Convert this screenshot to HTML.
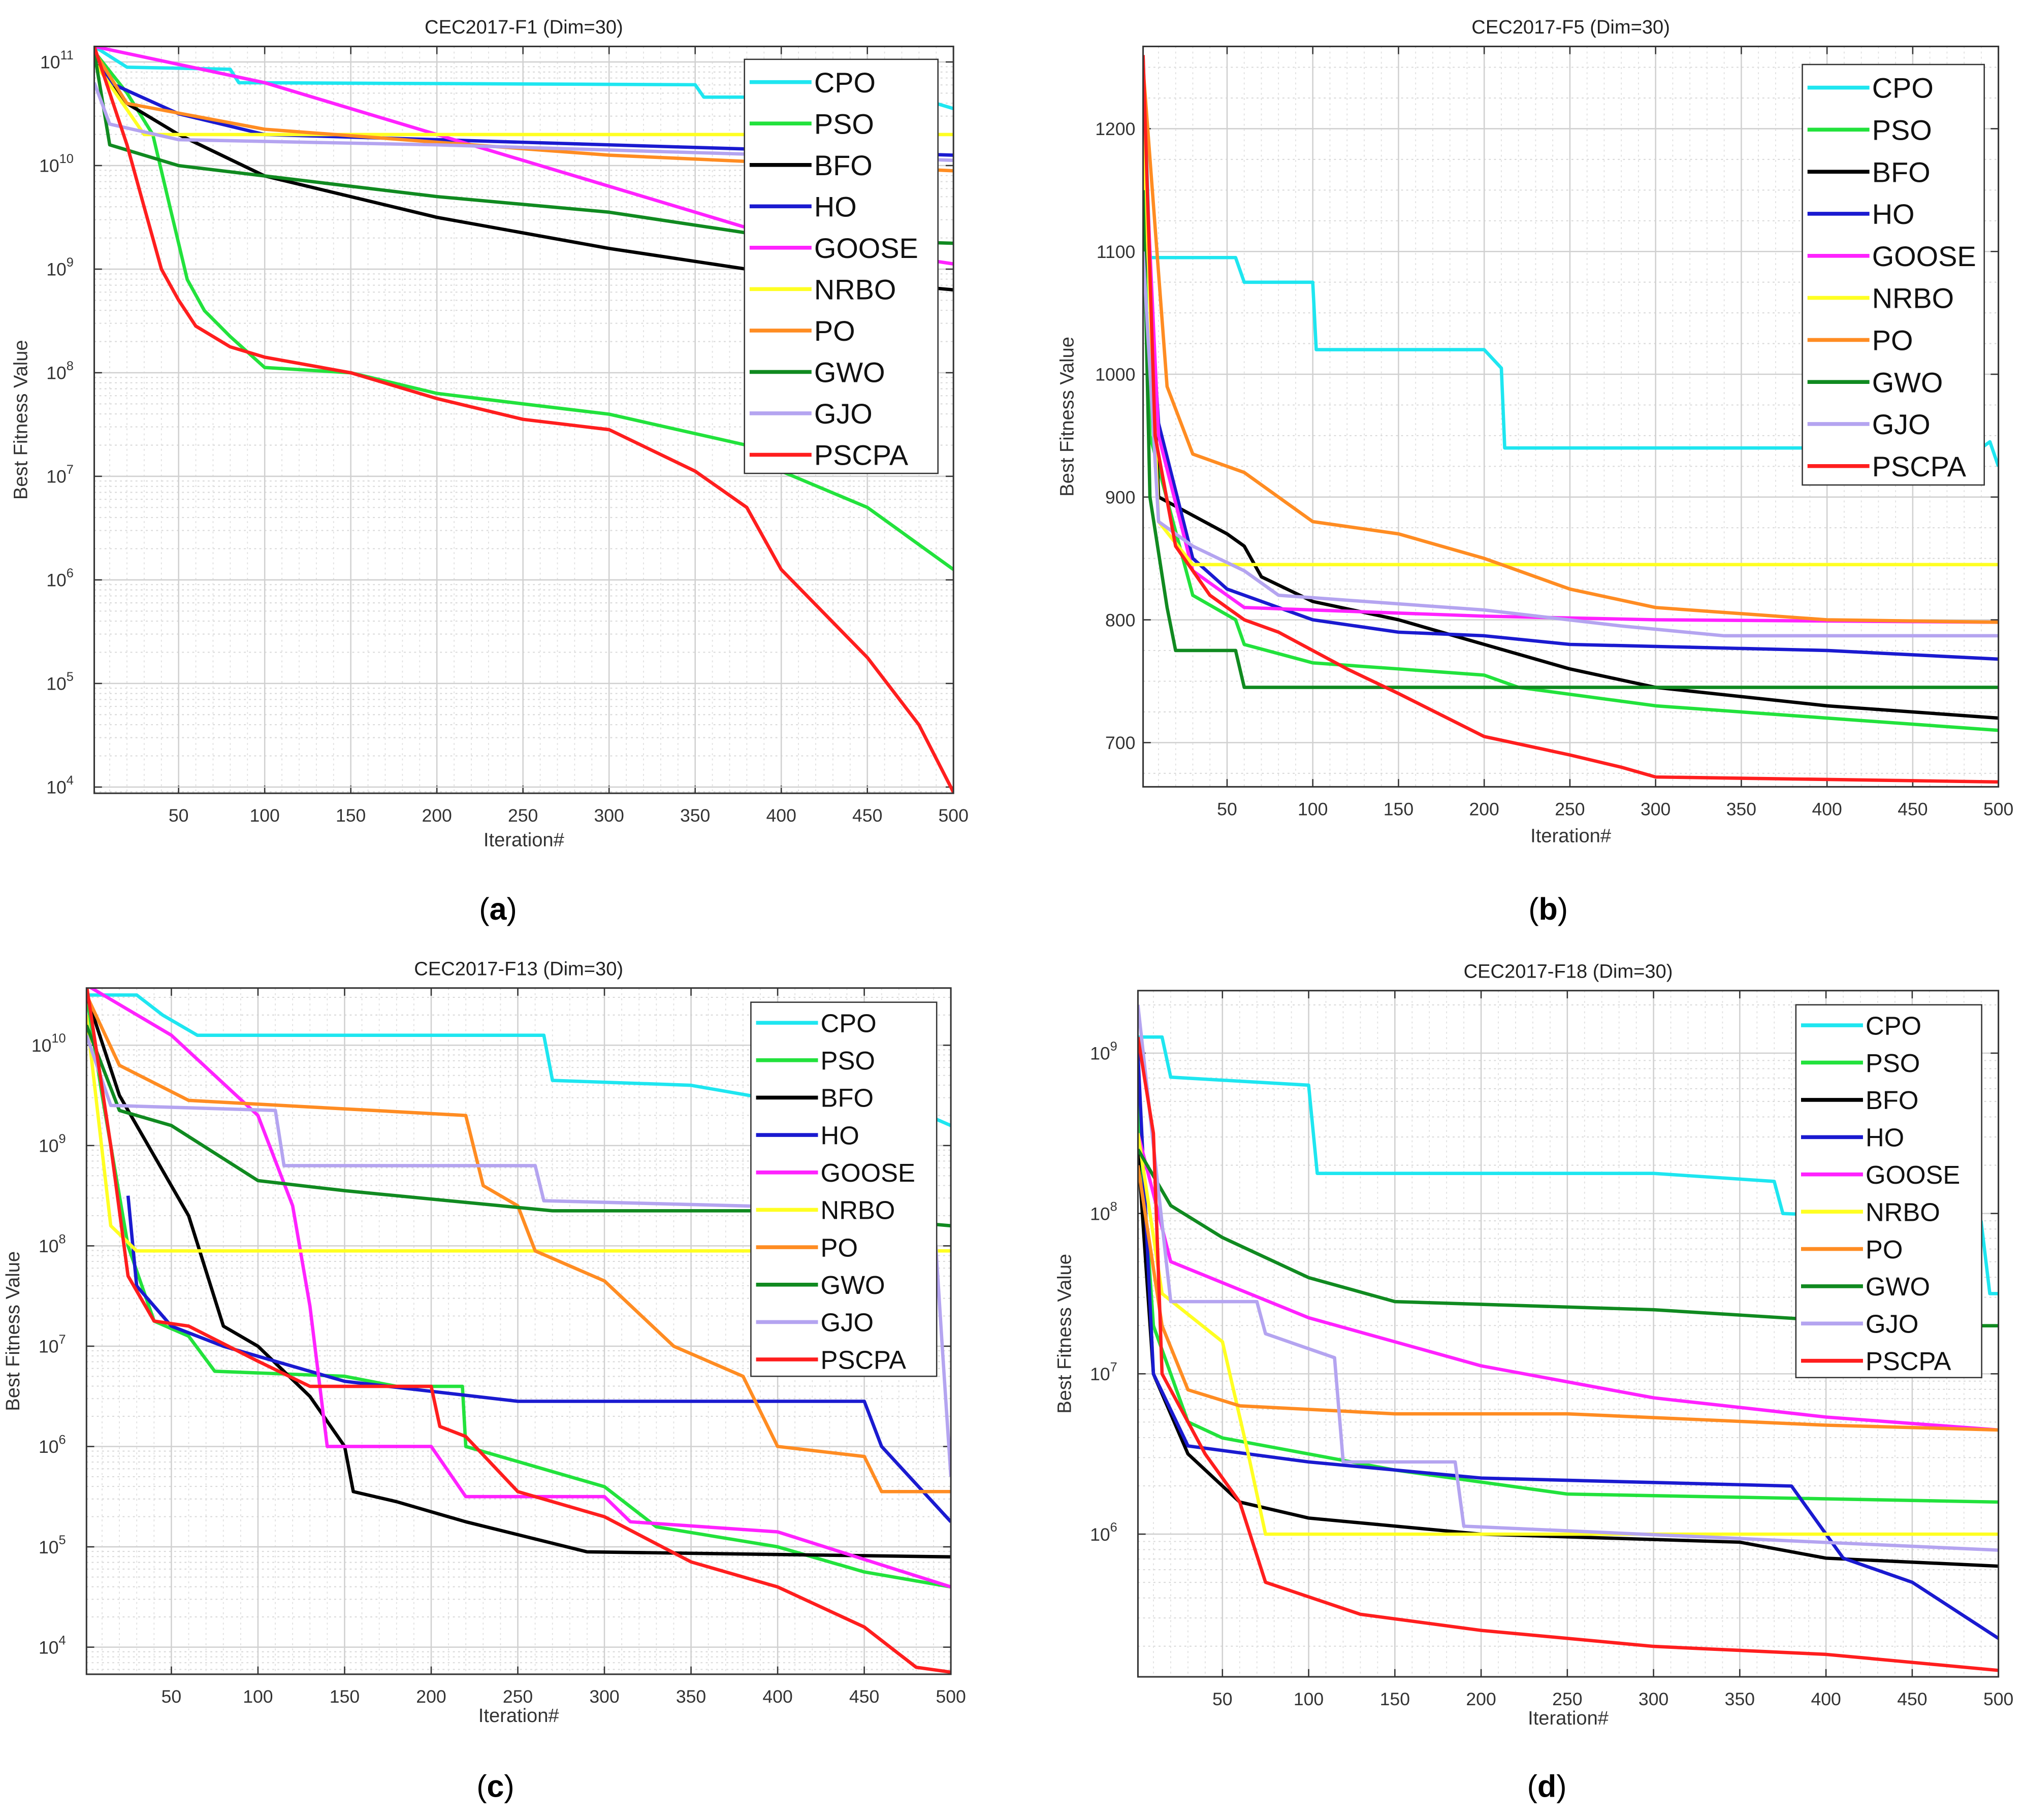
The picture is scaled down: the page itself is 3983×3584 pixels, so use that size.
<!DOCTYPE html>
<html><head><meta charset="utf-8"><style>
html,body{margin:0;padding:0;background:#fff;}
svg{display:block;}
text{font-family:"Liberation Sans",sans-serif;}
</style></head><body>
<svg id="fig" xmlns="http://www.w3.org/2000/svg" width="3983" height="3584" viewBox="0 0 1568 1411"></svg>
<script>
const seriesNames = ["CPO","PSO","BFO","HO","GOOSE","NRBO","PO","GWO","GJO","PSCPA"];
const seriesColors = ["#1ee6f0","#22e23c","#000000","#1a1ad0","#ff22ff","#ffff22","#ff8c22","#108a20","#b4a4f0","#ff1e1e"];
const xTicks = [50,100,150,200,250,300,350,400,450,500];

// Panel (a) F1 data: [iteration, log10(value)]
const a_CPO=[[1,11.15],[20,10.95],[80,10.93],[85,10.8],[350,10.78],[355,10.66],[480,10.66],[490,10.6],[500,10.55]];
const a_PSO=[[1,11.1],[20,10.7],[35,10.3],[45,9.6],[55,8.9],[65,8.6],[80,8.35],[100,8.05],[150,8.0],[200,7.8],[250,7.7],[300,7.6],[380,7.3],[400,7.05],[450,6.7],[500,6.1]];
const a_BFO=[[1,11.0],[20,10.6],[50,10.3],[100,9.9],[200,9.5],[300,9.2],[400,8.95],[500,8.8]];
const a_HO=[[1,11.1],[10,10.8],[50,10.5],[100,10.3],[300,10.2],[500,10.1]];
const a_GOOSE=[[1,11.15],[100,10.8],[200,10.3],[300,9.8],[400,9.3],[500,9.05]];
const a_NRBO=[[1,11.0],[30,10.3],[500,10.3]];
const a_PO=[[1,11.1],[20,10.6],[100,10.35],[300,10.1],[500,9.95]];
const a_GWO=[[1,11.1],[10,10.2],[50,10.0],[100,9.9],[200,9.7],[300,9.55],[400,9.3],[500,9.25]];
const a_GJO=[[1,10.8],[10,10.4],[50,10.25],[200,10.2],[400,10.1],[500,10.05]];
const a_PSCPA=[[1,11.15],[10,10.7],[20,10.2],[30,9.6],[40,9.0],[50,8.7],[60,8.45],[80,8.25],[100,8.15],[150,8.0],[200,7.75],[250,7.55],[300,7.45],[350,7.05],[380,6.7],[400,6.1],[450,5.25],[480,4.6],[500,3.95]];

// Panel (b) F5 data: [iteration, value]
const b_CPO=[[1,1260],[5,1095],[55,1095],[60,1075],[100,1075],[102,1020],[200,1020],[210,1005],[212,940],[490,940],[495,945],[500,925]];
const b_PSO=[[1,1150],[5,950],[30,820],[55,800],[60,780],[100,765],[150,760],[200,755],[220,745],[300,730],[400,720],[500,710]];
const b_BFO=[[1,1200],[10,900],[50,870],[60,860],[70,835],[100,815],[150,800],[200,780],[250,760],[300,745],[400,730],[500,720]];
const b_HO=[[1,1150],[10,960],[30,850],[50,825],[100,800],[150,790],[200,787],[250,780],[400,775],[500,768]];
const b_GOOSE=[[1,1220],[10,950],[30,840],[60,810],[100,808],[200,803],[300,800],[500,798]];
const b_NRBO=[[1,1200],[10,880],[30,845],[500,845]];
const b_PO=[[1,1250],[15,990],[30,935],[60,920],[100,880],[150,870],[200,850],[250,825],[300,810],[400,800],[500,798]];
const b_GWO=[[1,1150],[5,900],[15,810],[20,775],[55,775],[60,745],[500,745]];
const b_GJO=[[1,1100],[10,880],[30,860],[60,840],[80,820],[200,808],[280,795],[340,787],[500,787]];
const b_PSCPA=[[1,1260],[8,950],[20,860],[40,820],[60,800],[80,790],[120,760],[150,740],[200,705],[250,690],[280,680],[300,672],[500,668]];

// Panel (c) F13
const c_CPO=[[1,10.5],[30,10.5],[45,10.3],[65,10.1],[265,10.1],[270,9.65],[350,9.6],[400,9.45],[480,9.35],[500,9.2]];
const c_PSO=[[1,10.5],[10,9.5],[25,8.0],[40,7.25],[60,7.1],[75,6.75],[150,6.7],[180,6.6],[218,6.6],[220,6.0],[260,5.8],[300,5.6],[330,5.2],[400,5.0],[450,4.75],[500,4.6]];
const c_BFO=[[1,10.5],[20,9.5],[60,8.3],[80,7.2],[100,7.0],[130,6.5],[150,6.0],[155,5.55],[180,5.45],[220,5.25],[290,4.95],[500,4.9]];
const c_HO=[[25,8.5],[30,7.6],[50,7.2],[80,7.0],[150,6.65],[250,6.45],[450,6.45],[460,6.0],[500,5.25]];
const c_GOOSE=[[1,10.6],[50,10.1],[100,9.3],[120,8.4],[130,7.4],[140,6.0],[200,6.0],[220,5.5],[300,5.5],[315,5.25],[400,5.15],[500,4.6]];
const c_NRBO=[[1,10.3],[15,8.2],[30,7.95],[40,7.95],[500,7.95]];
const c_PO=[[1,10.5],[20,9.8],[60,9.45],[220,9.3],[230,8.6],[250,8.4],[260,7.95],[300,7.65],[340,7.0],[380,6.7],[400,6.0],[450,5.9],[460,5.55],[500,5.55]];
const c_GWO=[[1,10.2],[20,9.35],[50,9.2],[100,8.65],[150,8.55],[270,8.35],[400,8.35],[500,8.2]];
const c_GJO=[[1,10.1],[15,9.4],[110,9.35],[115,8.8],[260,8.8],[265,8.45],[490,8.35],[495,7.0],[500,5.7]];
const c_PSCPA=[[1,10.6],[15,9.0],[25,7.7],[40,7.25],[60,7.2],[100,6.85],[130,6.6],[200,6.6],[205,6.2],[220,6.1],[250,5.55],[300,5.3],[350,4.85],[400,4.6],[450,4.2],[480,3.8],[500,3.75]];

// Panel (d) F18
const d_CPO=[[1,9.1],[15,9.1],[20,8.85],[100,8.8],[105,8.25],[300,8.25],[370,8.2],[375,8.0],[490,7.95],[495,7.5],[500,7.5]];
const d_PSO=[[1,8.7],[10,7.3],[30,6.7],[50,6.6],[100,6.5],[150,6.4],[250,6.25],[500,6.2]];
const d_BFO=[[1,8.4],[10,7.0],[30,6.5],[60,6.2],[100,6.1],[200,6.0],[350,5.95],[400,5.85],[500,5.8]];
const d_HO=[[1,9.0],[10,7.0],[30,6.55],[100,6.45],[200,6.35],[380,6.3],[410,5.85],[450,5.7],[500,5.35]];
const d_GOOSE=[[1,8.5],[20,7.7],[100,7.35],[200,7.05],[300,6.85],[400,6.73],[500,6.65]];
const d_NRBO=[[1,8.5],[15,7.5],[50,7.2],[65,6.5],[75,6.0],[100,6.0],[500,6.0]];
const d_PO=[[1,8.3],[15,7.3],[30,6.9],[60,6.8],[150,6.75],[250,6.75],[400,6.68],[500,6.65]];
const d_GWO=[[1,8.4],[20,8.05],[50,7.85],[100,7.6],[150,7.45],[300,7.4],[450,7.3],[500,7.3]];
const d_GJO=[[1,9.3],[20,7.45],[70,7.45],[75,7.25],[115,7.1],[120,6.45],[185,6.45],[190,6.05],[500,5.9]];
const d_PSCPA=[[1,9.1],[10,8.5],[15,7.0],[40,6.5],[60,6.2],[75,5.7],[130,5.5],[200,5.4],[300,5.3],[400,5.25],[450,5.2],[500,5.15]];

const panels=[
 {id:"a",title:"CEC2017-F1 (Dim=30)",L:73,R:739,T:36,B:615,log:true,ymin:3.94,ymax:11.15,yt:[4,5,6,7,8,9,10,11],
  data:[a_CPO,a_PSO,a_BFO,a_HO,a_GOOSE,a_NRBO,a_PO,a_GWO,a_GJO,a_PSCPA],leg:[577,46,150,321],lfs:22,sub:[386,705],xl:633,yl:656},
 {id:"b",title:"CEC2017-F5 (Dim=30)",L:886,R:1549,T:36,B:610,log:false,ymin:664,ymax:1267,yt:[700,800,900,1000,1100,1200],
  data:[b_CPO,b_PSO,b_BFO,b_HO,b_GOOSE,b_NRBO,b_PO,b_GWO,b_GJO,b_PSCPA],leg:[1397,50,141,326],lfs:22,sub:[1200,705],xl:629,yl:653},
 {id:"c",title:"CEC2017-F13 (Dim=30)",L:67,R:737,T:766,B:1298,log:true,ymin:3.73,ymax:10.57,yt:[4,5,6,7,8,9,10],
  data:[c_CPO,c_PSO,c_BFO,c_HO,c_GOOSE,c_NRBO,c_PO,c_GWO,c_GJO,c_PSCPA],leg:[582,777,144,290],lfs:20,sub:[384,1385],xl:1313,yl:1335},
 {id:"d",title:"CEC2017-F18 (Dim=30)",L:882,R:1549,T:768,B:1300,log:true,ymin:5.11,ymax:9.39,yt:[6,7,8,9],
  data:[d_CPO,d_PSO,d_BFO,d_HO,d_GOOSE,d_NRBO,d_PO,d_GWO,d_GJO,d_PSCPA],leg:[1392,779,144,289],lfs:20,sub:[1199,1385],xl:1315,yl:1337}
];
const NS="http://www.w3.org/2000/svg";
const svg=document.getElementById('fig');
function mk(tag,attrs,parent){const e=document.createElementNS(NS,tag);for(const k in attrs)e.setAttribute(k,attrs[k]);(parent||svg).appendChild(e);return e;}

panels.forEach(p=>{
  const g=mk('g',{});
  
  
  const xs=v=>p.L+(v-1)/499*(p.R-p.L);
  const ys=v=>p.B-(v-p.ymin)/(p.ymax-p.ymin)*(p.B-p.T);
  mk('rect',{x:p.L,y:p.T,width:p.R-p.L,height:p.B-p.T,fill:'#fff'},g);
  if(p.log){
    for(let d=Math.floor(p.ymin);d<=Math.ceil(p.ymax);d++){
      for(let m=2;m<=9;m++){const v=d+Math.log10(m);if(v>p.ymin&&v<p.ymax){
        const l=mk('line',{x1:p.L,x2:p.R,y1:ys(v),y2:ys(v),stroke:'#d8d8d8','stroke-width':0.8,'stroke-dasharray':'1.5 2.5'},g);
        
        }}
    }
  } else {
    for(let v=650;v<=1300;v+=25){if(v>p.ymin&&v<p.ymax&&v%100!==0){
      const l=mk('line',{x1:p.L,x2:p.R,y1:ys(v),y2:ys(v),stroke:'#d8d8d8','stroke-width':0.8,'stroke-dasharray':'1.5 2.5'},g);
      
      }}
  }
  for(let v=10;v<500;v+=10){if(v%50){
    const l=mk('line',{x1:xs(v),x2:xs(v),y1:p.T,y2:p.B,stroke:'#e0e0e0','stroke-width':0.7,'stroke-dasharray':'1.5 2.5'},g);
    
    }}
  xTicks.forEach(v=>{
    const l=mk('line',{x1:xs(v),x2:xs(v),y1:p.T,y2:p.B,stroke:'#d0d0d0','stroke-width':1},g);
    
    
    mk('line',{x1:xs(v),x2:xs(v),y1:p.B,y2:p.B-6,stroke:'#333','stroke-width':1},g);
    mk('line',{x1:xs(v),x2:xs(v),y1:p.T,y2:p.T+6,stroke:'#333','stroke-width':1},g);
    const t=mk('text',{x:xs(v),y:p.B+22,'font-size':14,'text-anchor':'middle',fill:'#333'},g);
    t.textContent=v;
    
    
  });
  p.yt.forEach(v=>{
    const y=ys(v);
    const l=mk('line',{x1:p.L,x2:p.R,y1:y,y2:y,stroke:'#d0d0d0','stroke-width':1},g);
    
    
    mk('line',{x1:p.L,x2:p.L+6,y1:y,y2:y,stroke:'#333','stroke-width':1},g);
    mk('line',{x1:p.R,x2:p.R-6,y1:y,y2:y,stroke:'#333','stroke-width':1},g);
    const t=mk('text',{x:p.L-6,y:y+5,'font-size':14,'text-anchor':'end',fill:'#333'},g);
    
    
    if(p.log){t.textContent='10';const s=mk('tspan',{dy:-7,'font-size':10},t);s.textContent=v;t.setAttribute('x',p.L-16);}
    else t.textContent=v;
  });
  const clip=mk('clipPath',{id:'clip'+p.id},g);
  mk('rect',{x:p.L,y:p.T,width:p.R-p.L,height:p.B-p.T},clip);
  p.data.forEach((s,i)=>{
    const d=s.map((pt,j)=>(j?'L':'M')+xs(pt[0]).toFixed(1)+','+ys(pt[1]).toFixed(1)).join(' ');
    const path=mk('path',{d:d,fill:'none',stroke:seriesColors[i],'stroke-width':2.6,'stroke-linejoin':'round','clip-path':'url(#clip'+p.id+')'},g);
    
    
  });
  mk('rect',{x:p.L,y:p.T,width:p.R-p.L,height:p.B-p.T,fill:'none',stroke:'#333','stroke-width':1.2},g);
  const tt=mk('text',{x:(p.L+p.R)/2,y:p.T-10,'font-size':15,'text-anchor':'middle',fill:'#222'},g);
  tt.textContent=p.title;
  
  
  const xl=mk('text',{x:(p.L+p.R)/2,y:p.yl,'font-size':15,'text-anchor':'middle',fill:'#333'},g);
  xl.textContent='Iteration#';
  
  
  const yx=p.L-(p.log?52:54), yy=(p.T+p.B)/2;
  const yl=mk('text',{x:yx,y:yy,'font-size':15,'text-anchor':'middle',fill:'#333',transform:'rotate(-90 '+yx+' '+yy+')'},g);
  yl.textContent='Best Fitness Value';
  
  
  const lg=mk('g',{},g);
  
  
  const [lx,ly,lw,lh]=p.leg;
  mk('rect',{x:lx,y:ly,width:lw,height:lh,fill:'#fff',stroke:'#333','stroke-width':1},lg);
  const step=lh/10;
  seriesNames.forEach((n,i)=>{
    const cy=ly+step*(i+0.55);
    const e=mk('g',{},lg);
    
    
    mk('line',{x1:lx+4,x2:lx+52,y1:cy,y2:cy,stroke:seriesColors[i],'stroke-width':3},e);
    const t=mk('text',{x:lx+54,y:cy+p.lfs*0.36,'font-size':p.lfs,fill:'#111'},e);
    t.textContent=n;
  });
  const sb=mk('text',{x:p.sub[0],y:p.sub[1]+8,'font-size':24,'text-anchor':'middle',fill:'#000','font-family':'Liberation Serif, serif'},g);
  sb.innerHTML='(<tspan font-weight="bold">'+p.id+'</tspan>)';
  
  
});
</script>
</body></html>
